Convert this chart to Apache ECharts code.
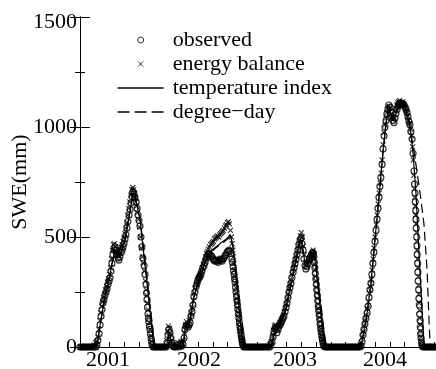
<!DOCTYPE html>
<html>
<head>
<meta charset="utf-8">
<script src="https://cdn.jsdelivr.net/npm/echarts@6/dist/echarts.min.js"></script>
<style>
html, body { margin: 0; padding: 0; background: #fff; }
#chart { width: 436px; height: 369px; }
</style>
</head>
<body>
<div id="chart"></div>
<script>
// x values are days counted from the left edge of the plot (late summer 2000)
var yearLabels = ['2001', '2002', '2003', '2004'];
var yearLabelDays = [116, 492, 889, 1261];
var seriesNames = ['observed', 'energy balance', 'temperature index', 'degree\u2212day'];

var observed = [
    [0,0],[6,0],[12,0],[18,0],[24,0],[30,0],[36,0],[42,0],[48,0],[54,0],[60,0],[66,0],
    [70,10],[74,30],[79,60],[83,100],[87,140],[91,170],[95,200],[99,215],[103,235],[108,250],[112,265],[116,285],[120,300],[124,315],[128,345],[132,380],[136,420],[141,440],[145,455],[149,440],[153,420],[157,405],[161,395],[165,410],[170,430],[174,440],[178,455],[182,470],[186,490],[190,510],[194,540],[198,570],[203,600],[207,625],[211,655],[215,685],[219,705],[223,695],[227,680],[232,660],[236,630],[240,600],[244,575],[248,550],[252,500],[256,455],[260,405],[265,370],[269,330],[273,285],[275,245],[277,215],[279,180],[281,150],[283,130],[285,115],[287,95],[289,80],[291,60],[294,40],[296,25],[298,12],
    [302,0],[308,0],[314,0],[320,0],[326,0],[332,0],[338,0],[344,0],[350,0],[356,0],
    [360,20],[364,55],[368,80],[372,65],[376,40],[380,20],[384,5],
    [390,0],[396,0],[402,10],[408,0],[414,15],[420,5],
    [426,10],[430,40],[434,80],[438,95],[442,100],[447,90],[451,100],[455,110],[459,140],[463,160],[467,190],[471,230],[475,250],[480,275],[484,290],[488,305],[492,315],[496,320],[500,330],[504,345],[508,360],[513,370],[517,385],[521,400],[525,410],[529,420],[533,425],[537,420],[542,415],[546,410],[550,400],[554,395],[558,390],[562,395],[566,390],[571,385],[575,395],[579,400],[583,395],[587,390],[591,400],[595,405],[600,415],[604,420],[608,430],[612,435],[616,440],[620,435],[624,425],[628,400],[630,385],[633,365],[635,345],[637,330],[639,310],[641,295],[643,270],[645,250],[647,230],[649,210],[651,190],[653,170],[655,150],[657,130],[659,110],[661,95],[663,80],[665,65],[667,50],[669,35],[671,22],[673,10],
    [677,0],[683,0],[689,0],[695,0],[701,0],[707,0],[713,0],[719,0],[725,0],[731,0],[737,0],[743,0],[749,0],[755,0],[761,0],[767,0],[773,0],[779,0],[785,0],[789,15],
    [794,20],[798,45],[802,70],[806,85],[810,90],[814,65],[819,80],[823,95],[827,100],[831,110],[835,120],[839,130],[843,140],[848,160],[852,180],[856,200],[860,225],[864,250],[868,270],[872,290],[876,315],[881,340],[885,360],[889,380],[893,400],[897,420],[901,440],[905,465],[910,485],[914,495],[918,470],[922,440],[926,400],[930,370],[934,355],[938,365],[943,380],[947,395],[951,405],[955,415],[959,425],[963,430],[965,425],[967,410],[969,385],[971,360],[973,335],[975,310],[977,285],[979,260],[981,235],[983,210],[985,185],[987,165],[989,145],[991,125],[993,105],[995,85],[997,70],[999,55],[1001,40],[1003,28],[1005,15],[1008,5],
    [1013,0],[1019,0],[1025,0],[1031,0],[1037,0],[1043,0],[1049,0],[1055,0],[1061,0],[1067,0],[1073,0],[1079,0],[1085,0],[1091,0],[1097,0],[1103,0],[1109,0],[1115,0],[1121,0],[1127,0],[1133,0],[1139,0],[1145,0],[1151,0],[1157,0],
    [1162,5],[1166,25],[1170,55],[1174,80],[1178,105],[1182,130],[1187,155],[1191,185],[1195,225],[1199,260],[1203,290],[1207,330],[1211,380],[1215,430],[1220,480],[1224,530],[1228,580],[1232,630],[1236,680],[1240,730],[1244,770],[1249,830],[1253,900],[1257,960],[1261,1000],[1265,1030],[1269,1060],[1273,1080],[1277,1100],[1282,1090],[1286,1070],[1290,1045],[1294,1030],[1298,1020],[1302,1040],[1306,1060],[1311,1080],[1315,1095],[1319,1105],[1323,1110],[1327,1105],[1331,1100],[1335,1105],[1339,1100],[1344,1090],[1348,1080],[1352,1065],[1356,1045],[1360,1025],[1364,1010],[1368,980],[1373,945],[1377,880],[1381,800],[1383,740],[1385,700],[1386,660],[1388,620],[1389,580],[1390,540],[1392,500],[1393,460],[1394,420],[1396,380],[1397,340],[1398,300],[1400,260],[1401,220],[1403,190],[1404,150],[1406,120],[1407,90],[1408,60],[1410,40],[1412,20],[1414,5],
    [1418,0],[1424,0],[1430,0],[1436,0],[1442,0],[1448,0],[1454,0],[1460,0],[1466,0],[1472,0]
];

var energyBalance = [
    [3,0],[9,0],[15,0],[21,0],[27,0],[33,0],[39,0],[45,0],[51,0],[58,10],[64,20],[70,25],
    [74,45],[78,80],[82,120],[86,155],[90,185],[94,205],[98,225],[102,240],[106,260],[110,275],[114,295],[118,310],[122,330],[126,360],[130,400],[134,440],[138,465],[142,470],[146,455],[150,430],[154,415],[158,420],[162,430],[166,445],[170,455],[174,465],[178,480],[182,495],[186,515],[190,540],[194,565],[198,600],[202,630],[206,660],[210,690],[214,715],[218,725],[222,715],[226,700],[230,675],[234,640],[238,610],[242,580],[246,545],[250,500],[254,450],[258,410],[262,380],[266,345],[270,300],[273,260],[276,235],[279,200],[282,170],[285,140],[288,110],[291,80],[294,50],[297,25],[300,8],
    [305,0],[311,0],[317,0],[323,0],[329,0],[335,0],[341,0],[347,0],[353,0],
    [358,30],[362,70],[366,95],[370,85],[374,55],[378,30],[382,12],
    [387,0],[393,0],[399,0],[405,20],[411,0],[417,25],[422,15],
    [428,30],[432,65],[436,100],[440,115],[444,95],[448,105],[452,120],[456,130],[460,155],[465,180],[469,210],[473,245],[477,265],[482,285],[486,300],[490,315],[494,325],[498,335],[502,345],[506,360],[510,375],[515,390],[519,410],[523,425],[527,435],[531,445],[535,455],[540,465],[544,470],[548,475],[552,480],[556,490],[560,495],[564,500],[569,505],[573,500],[577,510],[581,515],[585,520],[589,525],[593,530],[597,540],[602,550],[606,555],[610,565],[614,570],[618,560],[622,530],[626,500],[629,470],[632,440],[634,410],[636,380],[638,350],[640,320],[642,290],[644,270],[646,245],[648,220],[650,200],[652,175],[654,155],[656,135],[658,115],[660,95],[662,75],[664,55],[666,40],[668,30],[670,20],[672,10],
    [678,0],[684,0],[690,0],[696,0],[702,0],[708,0],[714,0],[720,0],[726,0],[732,0],[738,0],[744,0],[750,0],[756,0],[762,0],[768,0],[774,0],[780,0],[786,10],[791,25],
    [796,50],[800,75],[804,95],[808,100],[812,80],[816,85],[821,100],[825,110],[829,115],[833,125],[837,135],[841,145],[845,160],[850,175],[854,195],[858,215],[862,240],[866,265],[870,285],[874,305],[878,330],[883,355],[887,375],[891,395],[895,415],[899,440],[903,460],[907,485],[911,505],[915,520],[919,500],[923,460],[928,420],[932,385],[936,370],[940,375],[945,390],[949,400],[953,410],[957,420],[961,430],[964,440],[966,420],[968,400],[970,375],[972,350],[974,320],[976,300],[978,270],[980,245],[982,220],[984,195],[986,175],[988,155],[990,135],[992,115],[994,95],[996,80],[998,65],[1000,50],[1002,38],[1004,30],[1006,20],[1009,8],
    [1016,0],[1022,0],[1028,0],[1034,0],[1040,0],[1046,0],[1052,0],[1058,0],[1064,0],[1070,0],[1076,0],[1082,0],[1088,0],[1094,0],[1100,0],[1106,0],[1112,0],[1118,0],[1124,0],[1130,0],[1136,0],[1142,0],[1148,0],[1154,0],[1159,10],
    [1164,20],[1168,45],[1172,70],[1176,95],[1180,120],[1184,145],[1188,175],[1192,205],[1196,245],[1200,275],[1204,305],[1208,350],[1212,400],[1216,450],[1220,500],[1225,555],[1229,600],[1233,650],[1237,700],[1241,745],[1245,790],[1249,850],[1253,920],[1257,975],[1261,1010],[1265,1040],[1269,1065],[1273,1085],[1277,1095],[1281,1085],[1285,1060],[1289,1040],[1293,1035],[1297,1045],[1302,1070],[1306,1085],[1310,1100],[1314,1110],[1318,1115],[1322,1120],[1326,1112],[1331,1110],[1335,1115],[1339,1105],[1343,1095],[1347,1085],[1351,1070],[1355,1050],[1359,1030],[1363,1015],[1367,990],[1371,960],[1375,910],[1378,850],[1380,780],[1382,720],[1384,680],[1386,640],[1387,600],[1389,560],[1391,520],[1392,480],[1393,440],[1395,400],[1396,360],[1398,320],[1399,280],[1401,240],[1402,200],[1404,165],[1405,130],[1407,100],[1408,70],[1410,45],[1412,25],[1415,8],
    [1421,0],[1427,0],[1433,0],[1439,0],[1445,0],[1451,0],[1457,0],[1463,0],[1469,0]
];

var tempIndex = [
    [0,0],[66,0],[70,10],[83,100],[99,210],[116,285],[132,380],[145,445],[157,410],[170,430],[186,490],[207,620],[219,700],[227,690],[240,620],[248,580],[277,290],[306,0],
    [358,0],[366,60],[372,50],[384,0],
    [426,0],[434,80],[442,100],[451,100],[471,230],[496,320],[521,400],[545,440],[579,470],[604,490],[622,510],[632,460],[674,0],
    [790,0],[802,60],[827,100],[848,160],[868,270],[889,380],[910,490],[918,480],[930,380],[943,380],[963,430],[971,400],[1012,0],
    [1160,0],[1170,50],[1186,150],[1203,290],[1219,480],[1240,730],[1252,880],[1265,1020],[1277,1090],[1290,1040],[1302,1050],[1323,1110],[1343,1090],[1364,1010],[1377,880],[1389,700],[1406,330],[1423,0],[1476,0]
];

var degreeDay = [
    [0,0],[66,0],[72,20],[83,95],[99,200],[116,280],[132,375],[145,440],[157,405],[170,425],[186,485],[207,615],[219,695],[227,690],[240,630],[250,570],[280,280],[310,0],
    [426,0],[434,70],[442,100],[451,95],[471,225],[496,315],[521,395],[545,435],[579,465],[604,485],[622,505],[634,450],[681,0],
    [790,0],[802,55],[827,95],[848,155],[868,265],[889,375],[910,485],[918,485],[930,390],[943,385],[963,430],[973,400],[1017,0],
    [1160,0],[1170,45],[1186,145],[1203,285],[1219,475],[1240,725],[1252,875],[1265,1015],[1277,1085],[1290,1040],[1302,1050],[1323,1105],[1343,1095],[1364,1000],[1385,860],[1406,700],[1422,560],[1435,350],[1443,120],[1448,0],[1476,0]
];

var font = 'Liberation Serif';
var black = '#000';

// legend icons: the leading moves pin the icon box to 46x14
var circleIcon = 'path://M0,0M46,14M26,7A3,3,0,1,1,20,7A3,3,0,1,1,26,7Z';
var crossIcon = 'path://M0,0M46,14M20.5,4.5L25.5,9.5M25.5,4.5L20.5,9.5';
var solidIcon = 'path://M0,0M46,14M0,7L46,7';
var dashIcon = 'path://M0,0M46,14M0,7L12,7M17,7L29,7M34,7L46,7';

var dom = document.getElementById('chart');
var myChart = echarts.init(dom);
var option = {
    animation: false,
    backgroundColor: '#fff',
    textStyle: { fontFamily: font, color: black },
    grid: { left: 80, right: -1, top: 17, bottom: 22, outerBoundsMode: 'none', containLabel: false },
    legend: {
        orient: 'vertical',
        left: 117,
        top: 29,
        padding: 0,
        itemWidth: 46,
        itemHeight: 14,
        itemGap: 2,
        selectedMode: false,
        textStyle: { fontFamily: font, fontSize: 22, color: black, padding: [0, 0, 0, 4] },
        data: [
            { name: seriesNames[0], icon: circleIcon, itemStyle: { color: 'transparent', borderColor: black, borderWidth: 1 } },
            { name: seriesNames[1], icon: crossIcon, itemStyle: { color: 'transparent', borderColor: black, borderWidth: 1 } },
            { name: seriesNames[2], icon: solidIcon, itemStyle: { color: 'transparent', borderColor: black, borderWidth: 1.3 } },
            { name: seriesNames[3], icon: dashIcon, itemStyle: { color: 'transparent', borderColor: black, borderWidth: 1.3 } }
        ]
    },
    xAxis: [
        {
            type: 'value',
            position: 'bottom',
            min: 0,
            max: 1476,
            interval: 61,
            axisLine: { lineStyle: { color: black, width: 1 } },
            axisTick: { inside: true, length: 5, lineStyle: { color: black } },
            axisLabel: {
                customValues: yearLabelDays,
                formatter: function (v) {
                    var i = yearLabelDays.indexOf(v);
                    return i >= 0 ? yearLabels[i] : '';
                },
                fontFamily: font,
                fontSize: 22,
                color: black,
                margin: 2
            },
            splitLine: { show: false }
        },
        {
            type: 'value',
            position: 'top',
            min: 0,
            max: 1476,
            axisLine: { lineStyle: { color: black, width: 1 } },
            axisTick: { show: false },
            axisLabel: { show: false },
            splitLine: { show: false }
        }
    ],
    yAxis: [
        {
            type: 'value',
            position: 'left',
            min: 0,
            max: 1500,
            interval: 500,
            name: 'SWE(mm)',
            nameLocation: 'middle',
            nameGap: 49,
            nameMoveOverlap: false,
            nameTextStyle: { fontFamily: font, fontSize: 22, color: black },
            axisLine: { show: true, lineStyle: { color: black, width: 1 } },
            axisTick: { inside: true, length: 10, lineStyle: { color: black } },
            minorTick: { show: true, splitNumber: 2, length: 5, lineStyle: { color: black } },
            axisLabel: {
                fontFamily: font,
                fontSize: 22,
                color: black,
                margin: 3,
                formatter: function (v) {
                    return v === 1500 ? '{top|' + v + '}' : String(v);
                },
                rich: {
                    top: { fontFamily: font, fontSize: 22, color: black, padding: [10, 0, 0, 0] }
                }
            },
            splitLine: { show: false }
        },
        {
            type: 'value',
            position: 'right',
            min: 0,
            max: 1500,
            interval: 500,
            axisLine: { show: true, lineStyle: { color: black, width: 1 } },
            axisTick: { inside: true, length: 10, lineStyle: { color: black } },
            minorTick: { show: true, splitNumber: 2, length: 5, lineStyle: { color: black } },
            axisLabel: { show: false },
            splitLine: { show: false }
        }
    ],
    series: [
        {
            name: seriesNames[2],
            type: 'line',
            data: tempIndex,
            symbol: 'none',
            lineStyle: { color: black, width: 1.2 }
        },
        {
            name: seriesNames[3],
            type: 'line',
            data: degreeDay,
            symbol: 'none',
            lineStyle: { color: black, width: 1.2, type: [9, 5] }
        },
        {
            name: seriesNames[0],
            type: 'scatter',
            data: observed,
            symbol: 'circle',
            symbolSize: 6,
            itemStyle: { color: 'transparent', borderColor: black, borderWidth: 1.2 }
        },
        {
            name: seriesNames[1],
            type: 'scatter',
            data: energyBalance,
            symbol: 'path://M0,0L10,10M10,0L0,10',
            symbolSize: 5,
            itemStyle: { color: 'transparent', borderColor: black, borderWidth: 1.1 }
        }
    ]
};
if (option && typeof option === 'object') {
    myChart.setOption(option, true);
}
</script>
</body>
</html>
